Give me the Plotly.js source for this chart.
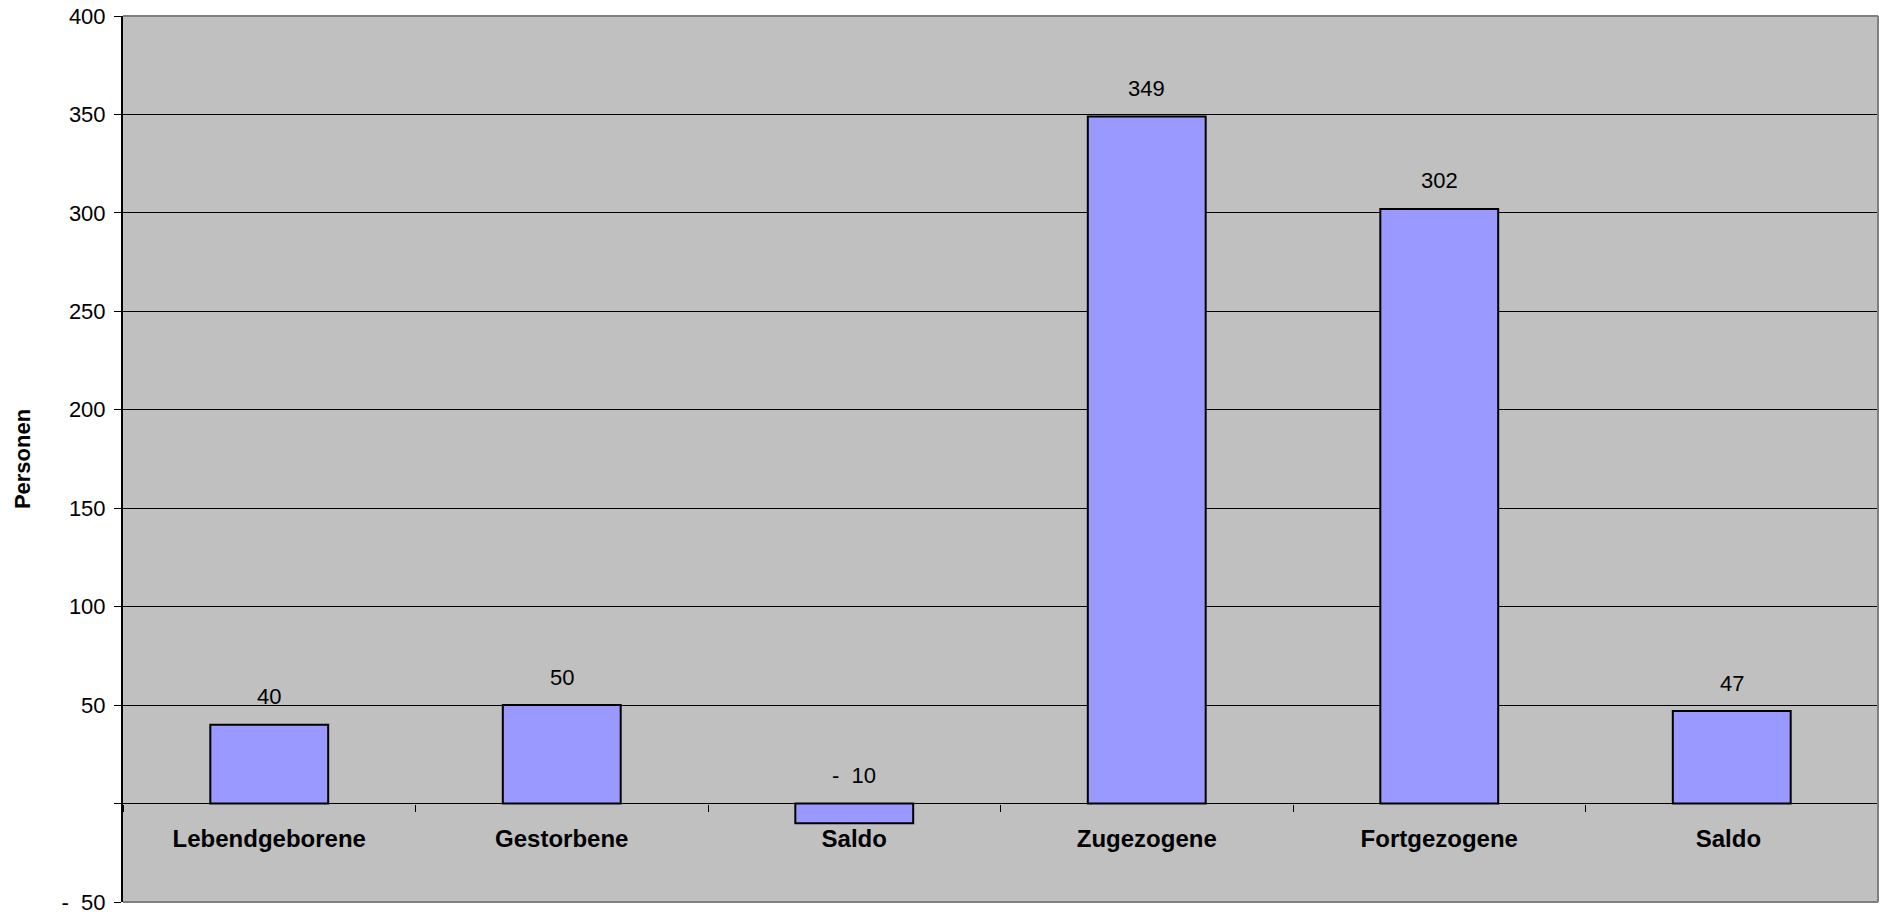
<!DOCTYPE html>
<html>
<head>
<meta charset="utf-8">
<script src="https://cdn.plot.ly/plotly-3.0.1.min.js"></script>
<style>
html,body{margin:0;padding:0;background:#fff;}
#chart{width:1879px;height:916px;}
</style>
</head>
<body>
<div id="chart"></div>
<script>
// Data
const categories = ["Lebendgeborene", "Gestorbene", "Saldo", "Zugezogene", "Fortgezogene", "Saldo "];
const values = [40, 50, -10, 349, 302, 47];
const yTickVals = [-50, 0, 50, 100, 150, 200, 250, 300, 350, 400];
const yTickText = ["-  50", "", "50", "100", "150", "200", "250", "300", "350", "400"];
const yAxisTitle = "Personen";

function fmt(v){ return v < 0 ? "-  " + Math.abs(v) : String(v); }

const FONT = "Liberation Sans, Arial, sans-serif";
const yMin = -50, yMax = 400;

const trace = {
  type: "bar",
  x: categories,
  y: values,
  marker: {color: "#9999FF", line: {color: "#000000", width: 2}},
  hoverinfo: "x+y"
};

const annotations = categories.map((c, i) => ({
  x: c, y: Math.max(values[i], 0), xref: "x", yref: "y",
  text: fmt(values[i]), showarrow: false,
  yanchor: "middle", yshift: 28,
  font: {family: FONT, size: 22, color: "#000"}
}));

const layout = {
  width: 1879, height: 916,
  margin: {l: 123, r: 1, t: 16, b: 14, pad: 0},
  paper_bgcolor: "#ffffff",
  plot_bgcolor: "#C0C0C0",
  showlegend: false,
  bargap: 0.597,
  font: {family: FONT, size: 22, color: "#000"},
  xaxis: {
    type: "category",
    anchor: "free",
    position: (0 - yMin) / (yMax - yMin),
    tickson: "boundaries",
    ticks: "outside", ticklen: 7, tickwidth: 1, tickcolor: "#000",
    showline: false, showgrid: false, zeroline: false,
    tickfont: {family: FONT, size: 24, color: "#000", weight: "bold"},
    ticklabelstandoff: 18,
    fixedrange: true
  },
  yaxis: {
    range: [yMin, yMax],
    tickvals: yTickVals, ticktext: yTickText,
    ticks: "outside", ticklen: 7, tickwidth: 1, tickcolor: "#000",
    showline: true, linecolor: "#000", linewidth: 2,
    showgrid: true, gridcolor: "#000", gridwidth: 1,
    zeroline: true, zerolinecolor: "#000", zerolinewidth: 1,
    tickfont: {family: FONT, size: 22, color: "#000"},
    ticklabelstandoff: 4,
    ticklabeloverflow: "allow",
    title: {text: "<b>" + yAxisTitle + "</b>", font: {family: FONT, size: 22, color: "#000"}, standoff: 25},
    fixedrange: true
  },
  shapes: [
    {type: "line", xref: "paper", yref: "paper", x0: 0, x1: 1, y0: 1, y1: 1, line: {color: "#808080", width: 2}},
    {type: "line", xref: "paper", yref: "paper", x0: 1, x1: 1, y0: 0, y1: 1, line: {color: "#808080", width: 2}},
    {type: "line", xref: "paper", yref: "paper", x0: 0, x1: 1, y0: 0, y1: 0, line: {color: "#808080", width: 2}}
  ],
  annotations: annotations
};

Plotly.newPlot("chart", [trace], layout, {displayModeBar: false, staticPlot: true});
</script>
</body>
</html>
